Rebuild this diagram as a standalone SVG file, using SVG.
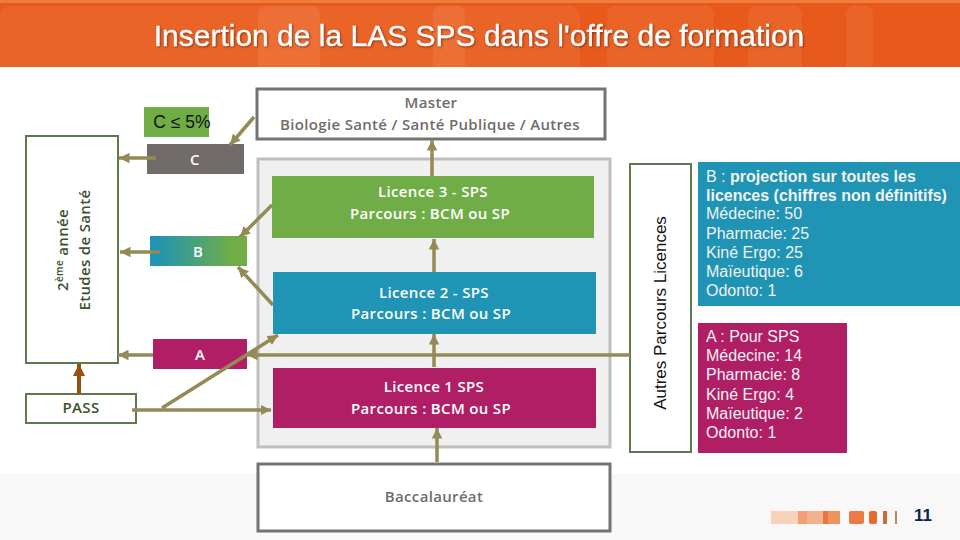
<svg xmlns="http://www.w3.org/2000/svg" width="960" height="540" viewBox="0 0 960 540">
<style>
.cn{fill:none;stroke:#948A54;stroke-width:3.5;marker-end:url(#ah)}
.os{font-family:"Open Sans","Liberation Sans",sans-serif;font-weight:600;font-size:15px;letter-spacing:.33px;text-anchor:middle}
.ar{font-family:"Liberation Sans",Arial,sans-serif}
.w{fill:#fff}
.g{fill:#716B69}
.dg{fill:#3B5230}
.pt{font-size:16px;fill:#f2f2f2}
.bd{fill:#fff;stroke:#5F7A4A;stroke-width:2}
.gy{fill:#fff;stroke:#737373;stroke-width:3}
.col{fill:#EC6F35}
</style>
<defs>
<marker id="ah" viewBox="0 0 10 10" refX="10" refY="5" markerWidth="3" markerHeight="3" orient="auto"><path d="M0 0L10 5L0 10Z" fill="#948A54"/></marker>
<marker id="ab" viewBox="0 0 10 10" refX="10" refY="5" markerWidth="3" markerHeight="3" orient="auto"><path d="M0 0L10 5L0 10Z" fill="#96500F"/></marker>
<linearGradient id="gb"><stop offset="0.05" stop-color="#1F94B4"/><stop offset="0.85" stop-color="#70AD47"/></linearGradient>
</defs>
<g id="background">
<rect x="0" y="474" width="960" height="66" fill="#F8F8F8"/>
<rect x="0" y="0" width="960" height="67" fill="#E85A1B"/>
<rect x="0" y="0" width="960" height="3" fill="#EF7B3C"/>
<path d="M0 67V16a10 10 0 0 1 10-10H570a10 10 0 0 1 10 10V67Z" fill="#EA6428"/>
<path class="col" d="M258 67V14a8 8 0 0 1 8-8h46a8 8 0 0 1 8 8V67Z"/>
<path class="col" d="M433 67V14a8 8 0 0 1 8-8h16a8 8 0 0 1 8 8V67Z"/>
<path d="M607 67V14a8 8 0 0 1 8-8h91a8 8 0 0 1 8 8V67Z" fill="#EA6428"/>
<path d="M748 67V14a8 8 0 0 1 8-8h38a8 8 0 0 1 8 8V67Z" fill="#EA6428"/>
<path d="M846 67V14a8 8 0 0 1 8-8h11a8 8 0 0 1 8 8V67Z" fill="#EA6428"/>
<rect x="258" y="159" width="352" height="288" fill="#F0F0F0" stroke="#BFBFBF" stroke-width="3"/>
</g>
<text class="ar" x="479" y="46" font-size="27" fill="#fff" text-anchor="middle" stroke="#fff" stroke-width="0.4" style="font-size:30px;filter:drop-shadow(1px 1px 1px rgba(0,0,0,.4))" id="title">Insertion de la LAS SPS dans l'offre de formation</text>
<g id="c5"><rect x="144" y="107" width="65" height="30" fill="#70AD47"/><text class="ar" x="182" y="128" font-size="17.5" fill="#111" text-anchor="middle">C ≤ 5%</text></g>
<g id="master"><rect class="gy" x="257" y="89" width="348" height="50"/><text class="os g" x="431" y="108">Master</text><text class="os g" x="430" y="130">Biologie Santé / Santé Publique / Autres</text></g>
<g id="etudes"><rect class="bd" x="26" y="136" width="92" height="227"/>
<text class="os dg" transform="translate(68,250) rotate(-90)">2<tspan font-size="10" dy="-5">ème</tspan><tspan dy="5"> année</tspan></text>
<text class="os dg" transform="translate(90,250) rotate(-90)">Etudes de Santé</text></g>
<g id="nodeC"><rect x="147" y="144" width="97" height="30" fill="#716B69"/><text class="os w" x="195" y="165">C</text></g>
<g id="nodeB"><rect x="150" y="236" width="97" height="30" fill="url(#gb)"/><text class="os w" x="198" y="257">B</text></g>
<g id="nodeA"><rect x="153" y="339" width="94" height="30" fill="#B01F65"/><text class="os w" x="200" y="360">A</text></g>
<g id="pass"><rect class="bd" x="26" y="394" width="110" height="29"/><text class="os dg" x="81" y="413">PASS</text></g>
<g id="l3"><rect x="272" y="176" width="322" height="62" fill="#70AD47"/><text class="os w" x="433" y="197">Licence 3 - SPS</text><text class="os w" x="430" y="219">Parcours : BCM ou SP</text></g>
<g id="l2"><rect x="273" y="272" width="323" height="62" fill="#1F94B4"/><text class="os w" x="434" y="298">Licence 2 - SPS</text><text class="os w" x="431" y="319">Parcours : BCM ou SP</text></g>
<g id="l1"><rect x="273" y="368" width="323" height="60" fill="#B01F65"/><text class="os w" x="434" y="392">Licence 1 SPS</text><text class="os w" x="431" y="414">Parcours : BCM ou SP</text></g>
<g id="bac"><rect class="gy" x="258" y="464" width="352" height="67"/><text class="os g" x="434" y="502">Baccalauréat</text></g>
<g id="autres"><rect class="bd" x="630" y="164" width="61" height="288"/><text class="ar" transform="translate(666,313) rotate(-90)" font-size="17" fill="#111" text-anchor="middle">Autres Parcours Licences</text></g>
<g id="panelB"><rect x="698" y="162" width="262" height="144" fill="#1F94B4"/>
<text class="ar pt" x="706" y="182">B : <tspan font-weight="bold">projection sur toutes les</tspan></text>
<text class="ar pt" x="706" y="201" font-weight="bold">licences (chiffres non définitifs)</text>
<text class="ar pt" x="706" y="219">Médecine: 50</text><text class="ar pt" x="706" y="239">Pharmacie: 25</text><text class="ar pt" x="706" y="258">Kiné Ergo: 25</text><text class="ar pt" x="706" y="277">Maïeutique: 6</text><text class="ar pt" x="706" y="296">Odonto: 1</text></g>
<g id="panelA"><rect x="698" y="323" width="149" height="130" fill="#B01F65"/>
<text class="ar pt" x="706" y="342">A : Pour SPS</text><text class="ar pt" x="706" y="361">Médecine: 14</text><text class="ar pt" x="706" y="380">Pharmacie: 8</text><text class="ar pt" x="706" y="400">Kiné Ergo: 4</text><text class="ar pt" x="706" y="419">Maïeutique: 2</text><text class="ar pt" x="706" y="438">Odonto: 1</text></g>
<g id="connectors">
<line class="cn" x1="254" y1="117" x2="230" y2="145"/>
<line class="cn" x1="432" y1="176" x2="432" y2="140"/>
<line class="cn" x1="156" y1="158" x2="119" y2="158"/>
<line class="cn" x1="272" y1="205" x2="240" y2="237"/>
<line class="cn" x1="273" y1="305" x2="238" y2="267"/>
<line class="cn" x1="160" y1="252" x2="120" y2="252"/>
<line class="cn" x1="434" y1="272" x2="434" y2="239"/>
<line class="cn" x1="434" y1="367" x2="434" y2="334"/>
<line class="cn" x1="437" y1="462" x2="437" y2="428"/>
<line class="cn" x1="153" y1="355" x2="118" y2="355"/>
<line class="cn" x1="630" y1="355" x2="247" y2="355"/>
<line class="cn" x1="132" y1="410" x2="271" y2="410"/>
<line class="cn" x1="162" y1="408" x2="278" y2="335"/>
<line fill="none" stroke="#96500F" stroke-width="4" marker-end="url(#ab)" x1="79" y1="394" x2="79" y2="364"/>
</g>
<g id="footer">
<rect x="771" y="511" width="27" height="13" fill="#F8D3BC"/><rect x="798" y="511" width="9" height="13" fill="#F0A074"/><rect x="807" y="511" width="16" height="13" fill="#F3B28E"/><rect x="823" y="511" width="5" height="13" fill="#E97840"/><rect x="828" y="511" width="12" height="13" fill="#F0945F"/><rect x="849" y="511" width="15" height="13" rx="2" fill="#EC7A42"/><rect x="869" y="511" width="8" height="13" rx="2" fill="#E8692E"/><rect x="883" y="511" width="4" height="13" fill="#CE6A38"/><rect x="895" y="511" width="2" height="13" fill="#C9805A"/>
<text class="ar" x="923" y="521" font-size="17" font-weight="bold" fill="#0B2350" text-anchor="middle">11</text></g>
</svg>
